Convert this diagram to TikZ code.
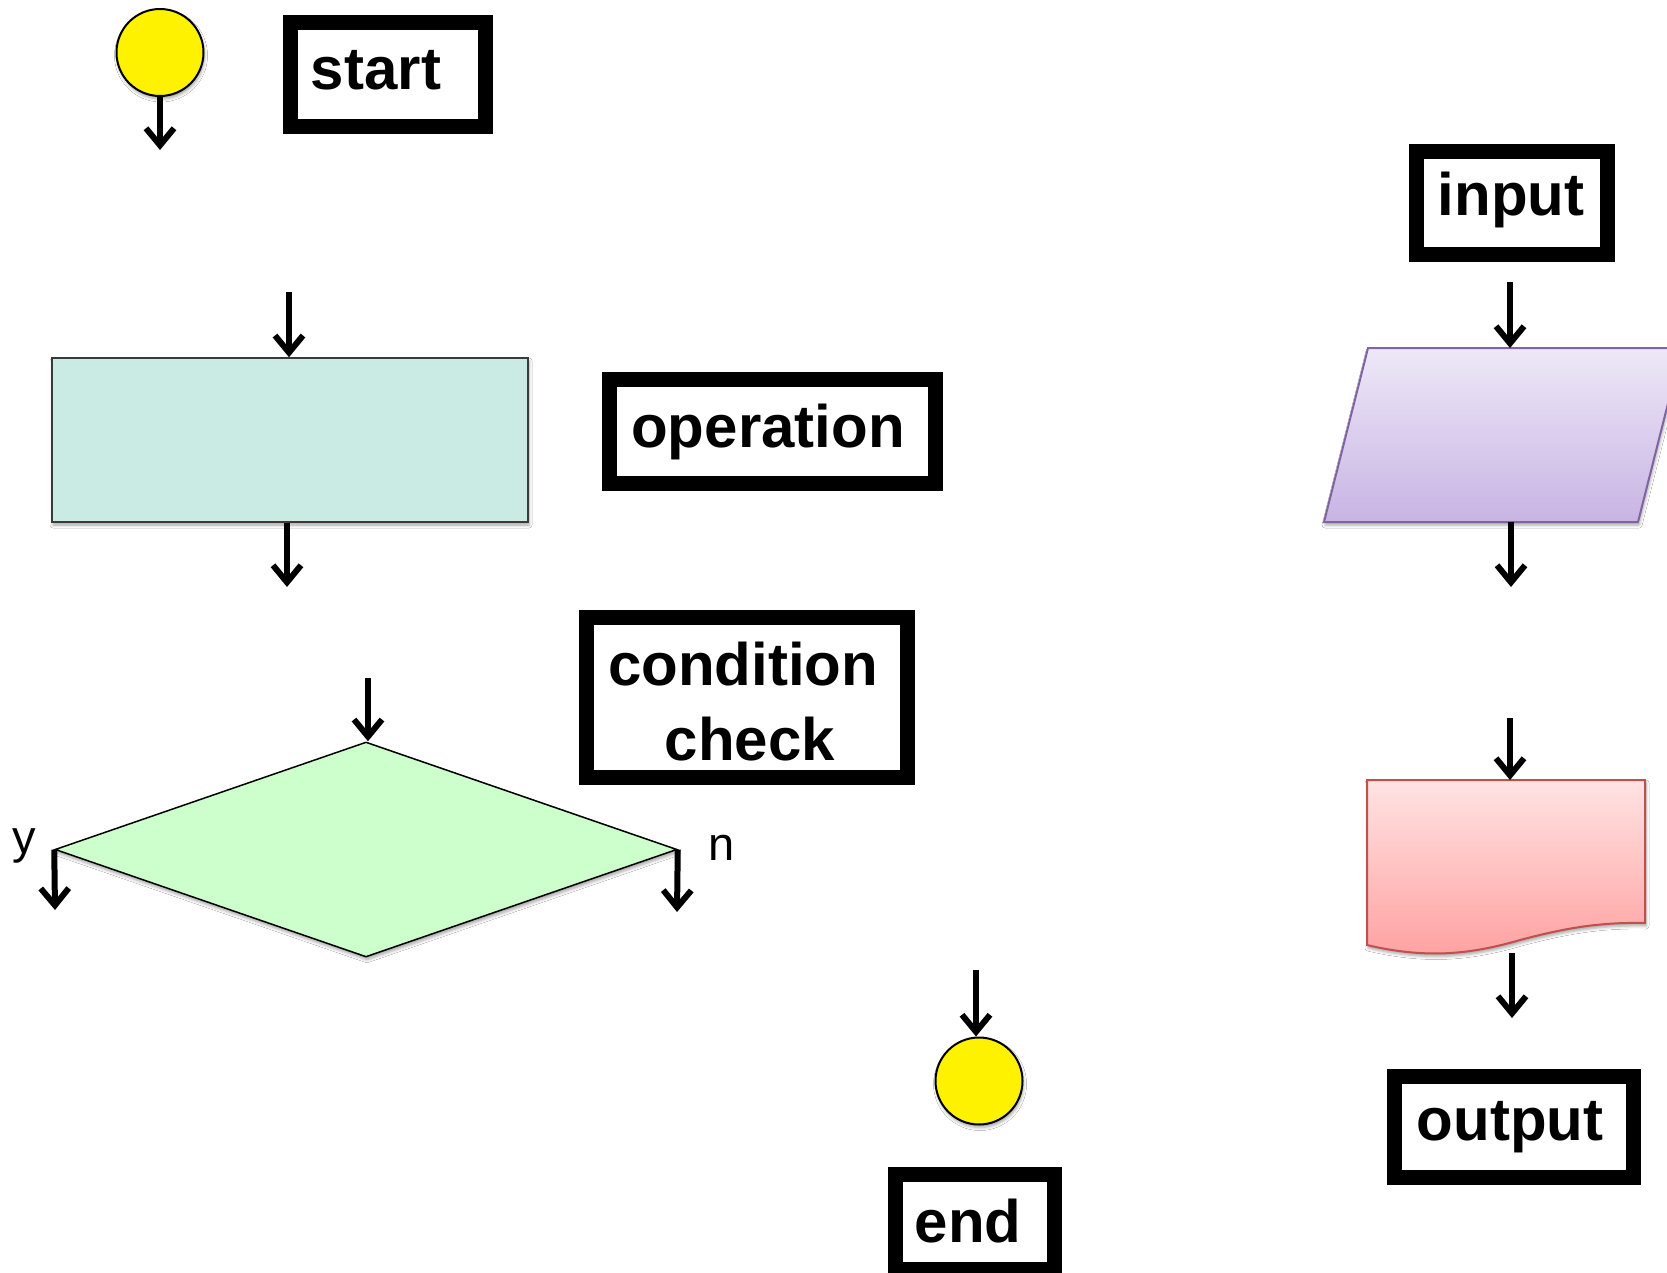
\documentclass[tikz,border=0pt]{standalone}
\usepackage{fontspec}
\setmainfont{Liberation Sans}
\usetikzlibrary{arrows.meta,shapes.geometric,shadows.blur}

\definecolor{opfill}{HTML}{CAEBE4}
\definecolor{opline}{HTML}{3A3A3A}
\definecolor{decfill}{HTML}{CCFFCC}
\definecolor{intop}{HTML}{EEE8F7}
\definecolor{inbot}{HTML}{C8B4E4}
\definecolor{inline}{HTML}{8064A2}
\definecolor{outtop}{HTML}{FFE3E3}
\definecolor{outbot}{HTML}{FFA0A0}
\definecolor{outline}{HTML}{C0504D}

\begin{document}
\begin{tikzpicture}[x=1pt,y=-1pt,
  flow/.style={line width=6pt,-{Straight Barb[length=17pt,width=28pt]}},
  softshadow/.style={blur shadow={shadow xshift=1pt,shadow yshift=-3pt,
      shadow blur radius=3pt,shadow opacity=35}},
  terminal/.style={circle,draw=black,line width=2pt,fill=yellow,
      minimum size=87pt,inner sep=0pt,softshadow},
  legendframe/.style={draw=black,line width=15pt,fill=white,inner sep=0pt},
  legendtext/.style={font=\fontsize{60}{72}\selectfont\bfseries,
      inner sep=0pt,anchor=base},
  branchtext/.style={font=\fontsize{47}{56}\selectfont,inner sep=0pt,anchor=base},
  helper/.style={inner sep=0pt,outer sep=0pt},
]
\useasboundingbox (0,0) rectangle (1667,1273);
\fill[white] (0,0) rectangle (1667,1273);

% ---------- start terminal ----------
\node[terminal] (begin) at (160,52.5) {};
\coordinate (beginOut) at (160,150);
\draw[flow] (begin) -- (beginOut);

\node[legendframe,minimum width=195pt,minimum height=103.5pt] (startframe) at (388,74.75) {};
\node[legendtext] (starttxt) at (376,90) {start};

% ---------- operation ----------
\node[draw=opline,line width=1.5pt,fill=opfill,minimum width=476pt,
      minimum height=164pt,inner sep=0pt,softshadow] (op) at (290,440) {};
\coordinate (opIn) at (289,292);
\coordinate (opOut) at (287,587);
\draw[flow] (opIn) -- (opIn |- op.north);
\draw[flow] (opOut |- op.south) -- (opOut);

\node[legendframe,minimum width=326pt,minimum height=104pt] (opframe) at (772.5,431.5) {};
\node[legendtext] (optxt) at (768,447) {operation};

% ---------- condition check ----------
\node[diamond,draw=black,line width=1.5pt,fill=decfill,minimum width=622pt,
      minimum height=215pt,inner sep=0pt,softshadow] (cond) at (366,849.5) {};
\coordinate (condIn) at (368,678);
\coordinate (yesOut) at (55,910);
\coordinate (noOut) at (677,912);
\draw[flow] (condIn) -- (condIn |- cond.north);
\draw[flow] (cond.west) -- (yesOut);
\draw[flow] (cond.east) -- (noOut);
\node[branchtext] (ylabel) at (24,853) {y};
\node[branchtext] (nlabel) at (722,860) {n};

\node[legendframe,minimum width=321pt,minimum height=160pt] (condframe) at (747,697.5) {};
\node[legendtext] (condtxt) at (743,685) {condition};
\node[legendtext] (checktxt) at (750,760) {check};

% ---------- input ----------
\node[legendframe,minimum width=191pt,minimum height=103pt] (inframe) at (1512,203) {};
\node[legendtext] (intxt) at (1511,216) {input};

\node[helper,minimum width=358pt,minimum height=174pt] (inshape) at (1503,435) {};
\path[softshadow,top color=intop,bottom color=inbot,draw=inline,line width=2pt,
      line join=miter]
  (1368,348) -- (1682,348) -- (1638,522) -- (1324,522) -- cycle;
\coordinate (inTop) at (1510,348);
\coordinate (inBot) at (1511,522);
\coordinate (inSrc) at (1510,282);
\coordinate (inDst) at (1511,587);
\draw[flow] (inSrc) -- (inTop);
\draw[flow] (inBot) -- (inDst);

% ---------- output ----------
\path[softshadow,top color=outtop,bottom color=outbot,draw=outline,line width=2pt]
  (1367,780) -- (1645,780) -- (1645,923)
  .. controls (1600,922) and (1565,928) .. (1520,940)
  .. controls (1475,953) and (1430,960) .. (1367,945) -- cycle;
\node[helper,minimum width=278pt,minimum height=176pt] (outshape) at (1506,868) {};
\coordinate (outTop) at (1510,780);
\coordinate (outSrc) at (1510,718);
\coordinate (outBot) at (1512,953);
\coordinate (outDst) at (1512,1018);
\draw[flow] (outSrc) -- (outTop);
\draw[flow] (outBot) -- (outDst);

\node[legendframe,minimum width=239pt,minimum height=101pt] (outframe) at (1514,1127) {};
\node[legendtext] (outtxt) at (1510,1140) {output};

% ---------- end terminal ----------
\node[terminal] (finish) at (979,1081) {};
\coordinate (finishIn) at (976,970);
\draw[flow] (finishIn) -- (finishIn |- finish.north);

\node[legendframe,minimum width=159pt,minimum height=95pt] (endframe) at (975,1222) {};
\node[legendtext] (endtxt) at (968,1242) {end};
\end{tikzpicture}
\end{document}
